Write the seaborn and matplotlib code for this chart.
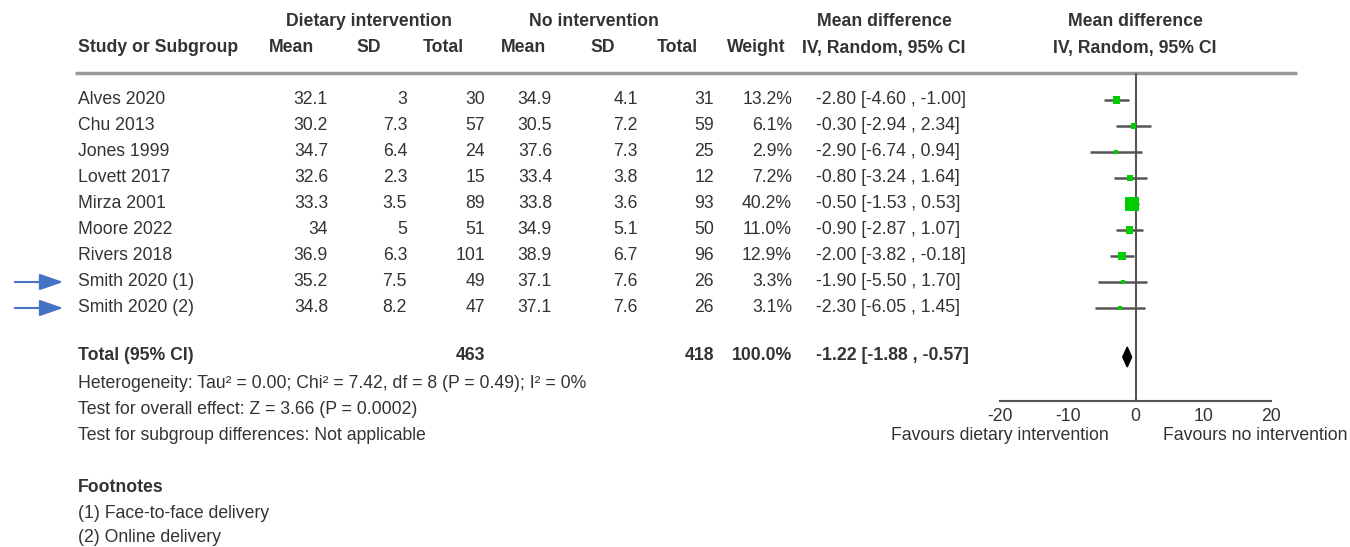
import matplotlib
matplotlib.use("Agg")
import matplotlib.pyplot as plt
import seaborn as sns

# study rows
studies = ["Alves 2020", "Chu 2013", "Jones 1999", "Lovett 2017", "Mirza 2001",
           "Moore 2022", "Rivers 2018", "Smith 2020 (1)", "Smith 2020 (2)"]
diet_mean = [32.1, 30.2, 34.7, 32.6, 33.3, 34, 36.9, 35.2, 34.8]
diet_sd = [3, 7.3, 6.4, 2.3, 3.5, 5, 6.3, 7.5, 8.2]
diet_n = [30, 57, 24, 15, 89, 51, 101, 49, 47]
ctrl_mean = [34.9, 30.5, 37.6, 33.4, 33.8, 34.9, 38.9, 37.1, 37.1]
ctrl_sd = [4.1, 7.2, 7.3, 3.8, 3.6, 5.1, 6.7, 7.6, 7.6]
ctrl_n = [31, 59, 25, 12, 93, 50, 96, 26, 26]
weights = [13.2, 6.1, 2.9, 7.2, 40.2, 11.0, 12.9, 3.3, 3.1]
md = [-2.80, -0.30, -2.90, -0.80, -0.50, -0.90, -2.00, -1.90, -2.30]
ci_lo = [-4.60, -2.94, -6.74, -3.24, -1.53, -2.87, -3.82, -5.50, -6.05]
ci_hi = [-1.00, 2.34, 0.94, 1.64, 0.53, 1.07, -0.18, 1.70, 1.45]

# pooled result
total_diet = 463
total_ctrl = 418
total_weight = 100.0
pooled = [-1.22, -1.88, -0.57]

xticks = [-20, -10, 0, 10, 20]
stats_lines = ["Heterogeneity: Tau² = 0.00; Chi² = 7.42, df = 8 (P = 0.49); I² = 0%",
               "Test for overall effect: Z = 3.66 (P = 0.0002)",
               "Test for subgroup differences: Not applicable"]
footnotes = ["(1) Face-to-face delivery", "(2) Online delivery"]
arrow_rows = ["Smith 2020 (1)", "Smith 2020 (2)"]

sns.set_style("white")
plt.rcParams["font.family"] = ["Liberation Sans", "DejaVu Sans"]

W, H = 1350, 547
fig = plt.figure(figsize=(W / 100, H / 100), dpi=100)
ax = fig.add_axes([0, 0, 1, 1])
ax.set_xlim(0, W)
ax.set_ylim(H, 0)
ax.axis("off")

fs = 12.7
txt = "#333333"
row_y = [100 + 26 * i for i in range(len(studies))]
total_y = 356

# headers
bold = dict(va="center", fontsize=fs, fontweight="bold", color=txt)
ax.text(369, 22, "Dietary intervention", ha="center", **bold)
ax.text(594, 22, "No intervention", ha="center", **bold)
ax.text(884, 22, "Mean difference", ha="center", **bold)
ax.text(1135, 22, "Mean difference", ha="center", **bold)
hdr = [(78, "Study or Subgroup", "left"), (291, "Mean", "center"), (369, "SD", "center"),
       (443, "Total", "center"), (523, "Mean", "center"), (603, "SD", "center"),
       (677, "Total", "center"), (756, "Weight", "center"), (884, "IV, Random, 95% CI", "center"),
       (1135, "IV, Random, 95% CI", "center")]
for x, s, ha in hdr:
    ax.text(x, 48, s, ha=ha, **bold)
ax.hlines(73, 75, 1297, color="#999999", lw=2.5)

# table body
for i, y in enumerate(row_y):
    ax.text(78, y, studies[i], ha="left", va="center", fontsize=fs, color=txt)
    cols = [(328, f"{diet_mean[i]:g}"), (407, f"{diet_sd[i]:g}"), (485, f"{diet_n[i]}"),
            (552, f"{ctrl_mean[i]:g}"), (638, f"{ctrl_sd[i]:g}"), (714, f"{ctrl_n[i]}"),
            (792, f"{weights[i]:.1f}%")]
    for x, s in cols:
        ax.text(x, y, s, ha="right", va="center", fontsize=fs, color=txt)
    ax.text(816, y, f"{md[i]:.2f} [{ci_lo[i]:.2f} , {ci_hi[i]:.2f}]",
            ha="left", va="center", fontsize=fs, color=txt)
    if studies[i] in arrow_rows:
        ax.annotate("", xy=(66, y), xytext=(12, y),
                    arrowprops=dict(arrowstyle="-|>,head_length=1.45,head_width=0.5",
                                    color="#4472C4", lw=1.5))

ax.text(78, total_y, "Total (95% CI)", ha="left", **bold)
ax.text(485, total_y, f"{total_diet}", ha="right", **bold)
ax.text(714, total_y, f"{total_ctrl}", ha="right", **bold)
ax.text(792, total_y, f"{total_weight:.1f}%", ha="right", **bold)
ax.text(816, total_y, f"{pooled[0]:.2f} [{pooled[1]:.2f} , {pooled[2]:.2f}]", ha="left", **bold)
for k, s in enumerate(stats_lines):
    ax.text(78, 383 + 26 * k, s, ha="left", va="center", fontsize=fs, color=txt)
ax.text(78, 487, "Footnotes", ha="left", **bold)
for k, s in enumerate(footnotes):
    ax.text(78, 513 + 25 * k, s, ha="left", va="center", fontsize=fs, color=txt)

# forest plot
fax = fig.add_axes([1000 / W, 0, 271 / W, 1])
fax.patch.set_alpha(0)
fax.set_xlim(-20, 20)
fax.set_ylim(H, 0)
fax.vlines(0, 73, 401, color="#555555", lw=1.5, zorder=1)
fax.hlines(row_y, ci_lo, ci_hi, color="#555555", lw=1.8, zorder=2)
sns.scatterplot(x=md, y=row_y, size=weights, sizes=(0, 95), size_norm=(0, max(weights)),
                marker="s", color="#00CC00", edgecolor="none", legend=False, ax=fax, zorder=3)
fax.fill([pooled[1], pooled[0], pooled[2], pooled[0]],
         [total_y + 1, total_y - 9, total_y + 1, total_y + 11], color="black", zorder=3)

for side in ["top", "right", "left"]:
    fax.spines[side].set_visible(False)
fax.spines["bottom"].set_position(("data", 401))
fax.spines["bottom"].set_bounds(-20, 20)
fax.spines["bottom"].set_color("#555555")
fax.spines["bottom"].set_linewidth(1.5)
fax.set_yticks([])
fax.set_xticks(xticks)
fax.set_xticklabels([str(t) for t in xticks])
fax.tick_params(axis="x", direction="inout", length=10, width=1.5, color="#555555",
                labelsize=fs, labelcolor=txt, pad=0)
fax.set_xlabel("")
fax.set_ylabel("")
fax.text(-4, 436, "Favours dietary intervention", ha="right", va="center", fontsize=fs, color=txt)
fax.text(4, 436, "Favours no intervention", ha="left", va="center", fontsize=fs, color=txt)

fig.savefig("out.png", dpi=100)
